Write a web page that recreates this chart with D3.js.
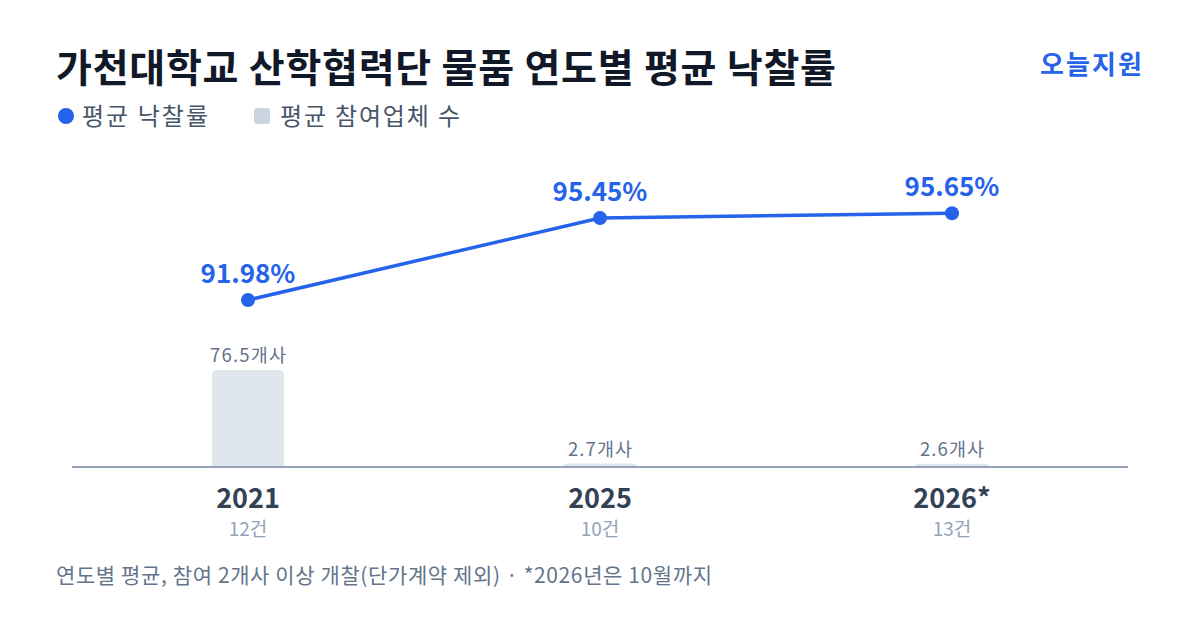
<!DOCTYPE html>
<html><head><meta charset="utf-8">
<script src="https://cdn.jsdelivr.net/npm/d3@7"></script>
<style>
html,body{margin:0;padding:0;background:#fff;}
svg{display:block;font-family:"Noto Sans CJK KR","Noto Sans",sans-serif;}
</style></head>
<body><svg id="c" width="1200" height="630"></svg>
<script>
const years = ["2021", "2025", "2026*"];
const counts = ["12건", "10건", "13건"];
const rates = [91.98, 95.45, 95.65];
const bidders = [76.5, 2.7, 2.6];
const title = "가천대학교 산학협력단 물품 연도별 평균 낙찰률";
const brand = "오늘지원";
const legendLabels = ["평균 낙찰률", "평균 참여업체 수"];
const footnote = "연도별 평균, 참여 2개사 이상 개찰(단가계약 제외) · *2026년은 10월까지";

const svg = d3.select("#c");
const blue = "#2563eb";

function fit(sel, w) {
  const n = sel.node();
  const cur = n.getComputedTextLength();
  if (cur > 0) sel.attr("textLength", w).attr("lengthAdjust", cur > w ? "spacingAndGlyphs" : "spacing");
  return sel;
}

fit(svg.append("text").attr("x", 56).attr("y", 82).attr("font-size", 39).attr("font-weight", 700)
  .attr("fill", "#111827").text(title), 780);
fit(svg.append("text").attr("x", 1040).attr("y", 74).attr("font-size", 26)
  .attr("font-weight", 700).attr("fill", blue).text(brand), 102);

// legend
svg.append("circle").attr("cx", 66).attr("cy", 116).attr("r", 8).attr("fill", blue);
fit(svg.append("text").attr("x", 82).attr("y", 125).attr("font-size", 24).attr("fill", "#475569").text(legendLabels[0]), 126);
svg.append("rect").attr("x", 254).attr("y", 108).attr("width", 16).attr("height", 16).attr("rx", 3).attr("fill", "#cbd5e1");
fit(svg.append("text").attr("x", 280).attr("y", 125).attr("font-size", 24).attr("fill", "#475569").text(legendLabels[1]), 180);

const x = d3.scalePoint().domain(years).range([248, 952]);
const y = d3.scaleLinear().domain([91.98, 95.65]).range([300, 213.3]);
const baseY = 467;
const yb = d3.scaleLinear().domain([0, 76.5]).range([baseY, 370]);
const barW = 72;

// bars
years.forEach((yr, i) => {
  const top = yb(bidders[i]);
  const h = baseY - top;
  const r = Math.min(5, h / 2);
  const x0 = x(yr) - barW / 2;
  svg.append("rect").attr("x", x0).attr("y", top).attr("width", barW).attr("height", h + 4)
    .attr("rx", r).attr("fill", "#dfe6ee");
  const tw = bidders[i] >= 10 ? 76 : 64;
  const lbl = svg.append("text").attr("x", x(yr) - tw / 2).attr("y", top - 8)
    .attr("font-size", 18.5).attr("fill", "#64748b").text(bidders[i] + "개사");
  fit(lbl, tw);
});
svg.append("rect").attr("x", 0).attr("y", baseY).attr("width", 1200).attr("height", 8).attr("fill", "#fff");

svg.append("line").attr("x1", 72).attr("x2", 1128).attr("y1", baseY).attr("y2", baseY)
  .attr("stroke", "#94a3b8").attr("stroke-width", 2);

// x labels
years.forEach((yr, i) => {
  svg.append("text").attr("x", x(yr)).attr("y", 508).attr("text-anchor", "middle")
    .attr("font-size", 27).attr("font-weight", 700).attr("fill", "#334155").text(yr);
  svg.append("text").attr("x", x(yr)).attr("y", 536).attr("text-anchor", "middle")
    .attr("font-size", 19).attr("fill", "#94a3b8").text(counts[i]);
});

// line
const line = d3.line().x((d, i) => x(years[i])).y(d => y(d));
svg.append("path").datum(rates).attr("d", line).attr("fill", "none").attr("stroke", blue).attr("stroke-width", 3.5);
rates.forEach((v, i) => {
  svg.append("circle").attr("cx", x(years[i])).attr("cy", y(v)).attr("r", 7).attr("fill", blue);
  svg.append("text").attr("x", x(years[i])).attr("y", y(v) - 17).attr("text-anchor", "middle")
    .attr("font-size", 26).attr("font-weight", 700).attr("fill", blue).text(v.toFixed(2) + "%");
});

fit(svg.append("text").attr("x", 56).attr("y", 583).attr("font-size", 21).attr("fill", "#64748b").text(footnote), 656);
</script></body></html>
